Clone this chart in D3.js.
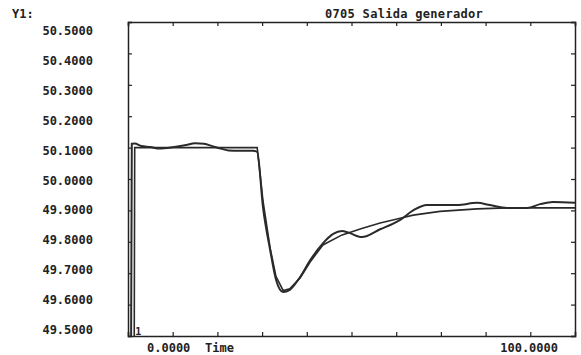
<!DOCTYPE html>
<html>
<head>
<meta charset="utf-8">
<script src="https://cdn.jsdelivr.net/npm/d3@7"></script>
<style>
  body { margin: 0; background: #fff; }
  text { font-family: "DejaVu Sans Mono", monospace; font-weight: bold; fill: #222; }
</style>
</head>
<body>
<div id="chart"></div>
<script>
const title = "0705 Salida generador";
const yTickLabels = [50.5, 50.4, 50.3, 50.2, 50.1, 50.0, 49.9, 49.8, 49.7, 49.6, 49.5];

// medida (curva ondulada)
const measTime = [0.7, 0.85, 1.5, 3, 5, 7, 10, 13, 15, 17, 19, 21, 22.5, 25, 28, 28.9,
  30.2, 31.8, 33.1, 34.7, 36.2, 38.5, 40.7, 43.6, 45.9, 47.9, 49.2, 52.3, 56.4, 60.9,
  63.8, 66.9, 69.8, 73.6, 78.1, 81, 84.8, 89.3, 92.2, 95.1, 100];
const measValue = [49.5, 50.112, 50.113, 50.105, 50.102, 50.097, 50.101, 50.108, 50.114, 50.112,
  50.104, 50.096, 50.091, 50.09, 50.09, 50.086,
  49.91, 49.774, 49.68, 49.64, 49.647, 49.688, 49.74, 49.795, 49.825, 49.834, 49.83, 49.815,
  49.84, 49.87, 49.9, 49.917, 49.917, 49.917, 49.924, 49.917, 49.908, 49.908, 49.92, 49.927, 49.924];

// simulada (curva suave)
const simTime = [1.4, 1.5, 28.9, 30.2, 31.8, 33.1, 34.7, 36.2, 38.5, 40.7, 43.6, 47.9, 52.3,
  56.4, 60.9, 63.8, 69.8, 78.1, 84.8, 100];
const simValue = [49.5, 50.1, 50.1, 49.93, 49.78, 49.69, 49.645, 49.65, 49.685, 49.735, 49.79,
  49.822, 49.842, 49.86, 49.875, 49.885, 49.897, 49.905, 49.908, 49.908];

const width = 581, height = 355;
const margin = { top: 22, right: 6, bottom: 19, left: 128 };

const svg = d3.select("#chart").append("svg")
  .attr("width", width)
  .attr("height", height);

const x = d3.scaleLinear().domain([0, 100]).range([margin.left, width - margin.right]);
const y = d3.scaleLinear().domain([49.5, 50.5]).range([height - margin.bottom, margin.top]);
// las etiquetas del eje Y no coinciden exactamente con las marcas en el original
const yLab = d3.scaleLinear().domain([49.5, 50.5]).range([330, 31]);

const xTicks = d3.range(0, 101, 10);
const yTicks = d3.range(0, 11).map(i => 49.5 + i * 0.1);

// ejes con marcas hacia dentro
svg.append("g").attr("transform", `translate(0,${y(49.5)})`)
  .call(d3.axisBottom(x).tickValues(xTicks).tickSize(-4).tickFormat(""));
svg.append("g").attr("transform", `translate(0,${y(50.5)})`)
  .call(d3.axisTop(x).tickValues(xTicks).tickSize(-4).tickFormat(""));
svg.append("g").attr("transform", `translate(${x(0)},0)`)
  .call(d3.axisLeft(y).tickValues(yTicks).tickSize(-4).tickFormat(""));
svg.append("g").attr("transform", `translate(${x(100)},0)`)
  .call(d3.axisRight(y).tickValues(yTicks).tickSize(-4).tickFormat(""));
svg.selectAll(".domain").attr("stroke", "#222").attr("stroke-width", 1.5);
svg.selectAll(".tick line").attr("stroke", "#222").attr("stroke-width", 1.2);

// etiquetas
svg.append("g").selectAll("text")
  .data(yTickLabels)
  .enter().append("text")
  .attr("x", 93)
  .attr("y", d => yLab(d) + 4)
  .attr("text-anchor", "end")
  .attr("font-size", "12px")
  .text(d => d.toFixed(4));

svg.append("text").attr("x", 12).attr("y", 18)
  .attr("font-size", "12px").text("Y1:");

svg.append("text").attr("x", 325).attr("y", 18)
  .attr("font-size", "12px").attr("letter-spacing", "0.3px").text(title);

svg.append("text").attr("x", x(0) + 19).attr("y", 352)
  .attr("font-size", "12px").text((0).toFixed(4));
svg.append("text").attr("x", x(0) + 77).attr("y", 352)
  .attr("font-size", "12px").text("Time");
svg.append("text").attr("x", x(100) - 17).attr("y", 352)
  .attr("text-anchor", "end")
  .attr("font-size", "12px").text((100).toFixed(4));

svg.append("text").attr("x", x(1.4) + 1).attr("y", y(49.5) - 1)
  .attr("font-size", "10px").text("1");

const line = d3.line().x(d => x(d[0])).y(d => y(d[1]));

svg.append("path")
  .datum(simTime.map((t, i) => [t, simValue[i]]))
  .attr("fill", "none").attr("stroke", "#2a2a2a").attr("stroke-width", 1.6)
  .attr("d", line);

svg.append("path")
  .datum(measTime.map((t, i) => [t, measValue[i]]))
  .attr("fill", "none").attr("stroke", "#2a2a2a").attr("stroke-width", 2)
  .attr("d", line.curve(d3.curveMonotoneX));
</script>
</body>
</html>
